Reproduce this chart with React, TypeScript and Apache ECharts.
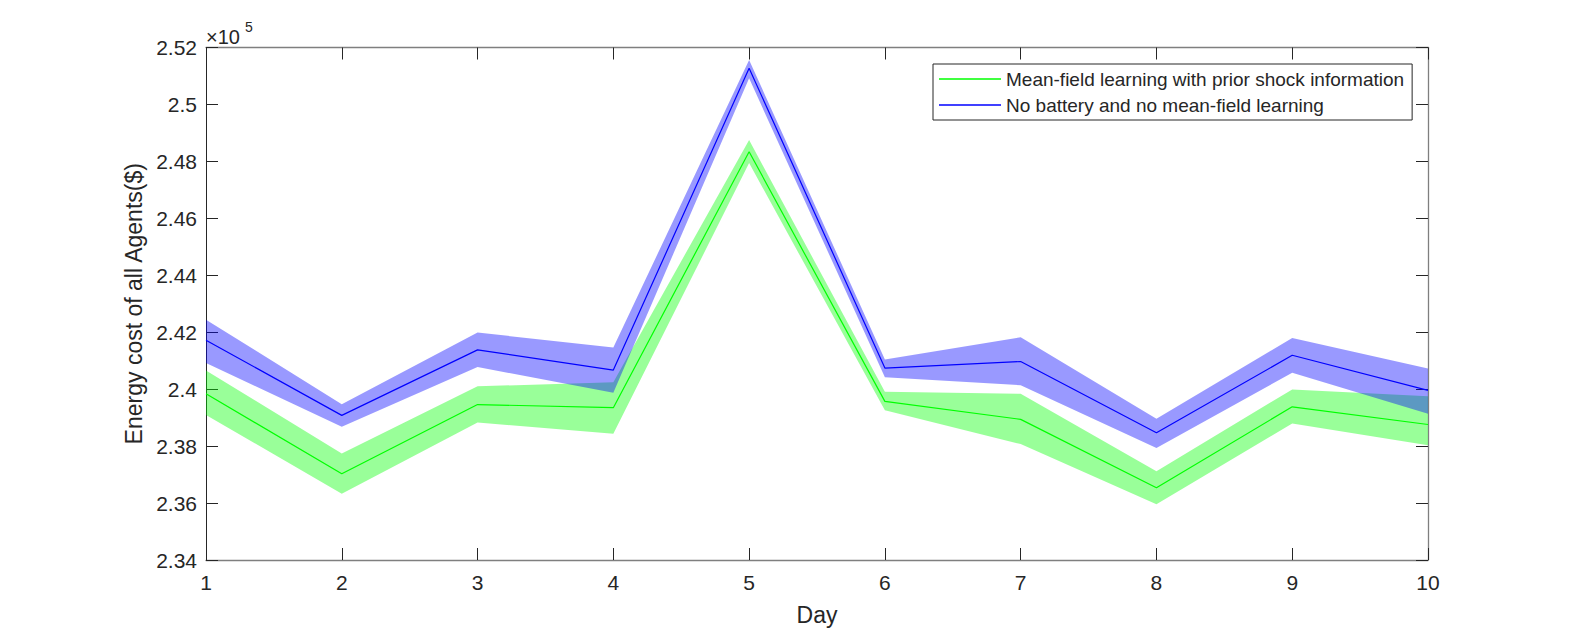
import React, { useEffect, useRef } from "react";
import * as echarts from "echarts";

const days = ["1", "2", "3", "4", "5", "6", "7", "8", "9", "10"];

const greenName = "Mean-field learning with prior shock information";
const blueName = "No battery and no mean-field learning";

const greenMean = [239840, 237030, 239460, 239350, 248340, 239570, 238940, 236540, 239380, 238760];
const greenUpper = [240660, 237740, 240100, 240240, 248750, 239910, 239840, 237120, 239990, 239750];
const greenLower = [239090, 236330, 238830, 238430, 247940, 239260, 238070, 235960, 238790, 238030];

const blueMean = [241720, 239080, 241380, 240670, 251270, 240740, 240970, 238470, 241190, 239960];
const blueUpper = [242440, 239470, 241990, 241460, 251560, 241040, 241820, 238960, 241800, 240730];
const blueLower = [240920, 238680, 240780, 239870, 250920, 240420, 240140, 237930, 240580, 239140];

const yMin = 234000;
const yMax = 252000;
const yStep = 2000;

const FONT = "'Liberation Sans', Arial, Helvetica, sans-serif";
const DARK = "#262626";
const GRAY = "#7f7f7f";

export default function App() {
  const ref = useRef<HTMLDivElement>(null);

  useEffect(() => {
    if (!ref.current) return;
    const chart = echarts.init(ref.current, null, { renderer: "svg" });
    const diff = (u: number[], l: number[]) => u.map((v, i) => v - l[i]);
    const fmt = (v: number) => String(+(v / 1e5).toFixed(2));

    const bandSeries = (name: string, lower: number[], upper: number[], color: string, stack: string) => [
      {
        name: name + "_lo",
        type: "line",
        data: lower,
        stack,
        symbol: "none",
        silent: true,
        lineStyle: { width: 0, opacity: 0 },
        z: 1,
      },
      {
        name: name + "_band",
        type: "line",
        data: diff(upper, lower),
        stack,
        symbol: "none",
        silent: true,
        lineStyle: { width: 0, opacity: 0 },
        areaStyle: { color, opacity: 0.4 },
        z: 1,
      },
    ];

    chart.setOption({
      animation: false,
      backgroundColor: "#ffffff",
      textStyle: { fontFamily: FONT },
      grid: { left: 206, right: 150, top: 47.5, bottom: 70.2, containLabel: false },
      legend: {
        data: [greenName, blueName],
        orient: "vertical",
        left: 933,
        top: 64,
        icon: "rect",
        itemWidth: 62,
        itemHeight: 1.5,
        itemGap: 6,
        padding: [5, 8, 5, 6],
        backgroundColor: "#ffffff",
        borderColor: DARK,
        borderWidth: 1,
        borderRadius: 0,
        textStyle: { fontFamily: FONT, fontSize: 19, color: DARK, lineHeight: 20 },
      },
      xAxis: [
        {
          type: "category",
          data: days,
          boundaryGap: false,
          name: "Day",
          nameLocation: "middle",
          nameGap: 43,
          nameTextStyle: { fontFamily: FONT, fontSize: 23, color: DARK },
          axisLine: { lineStyle: { color: GRAY, width: 1.3 } },
          axisTick: { inside: true, length: 12, alignWithLabel: true, lineStyle: { color: DARK, width: 1 } },
          axisLabel: { fontFamily: FONT, fontSize: 21, color: DARK, margin: 12 },
          splitLine: { show: false },
        },
        {
          type: "category",
          data: days,
          boundaryGap: false,
          position: "top",
          axisLine: { lineStyle: { color: GRAY, width: 1.3 } },
          axisTick: { inside: true, length: 12, alignWithLabel: true, lineStyle: { color: DARK, width: 1 } },
          axisLabel: { show: false },
          splitLine: { show: false },
        },
      ],
      yAxis: [
        {
          type: "value",
          min: yMin,
          max: yMax,
          interval: yStep,
          name: "Energy cost of all Agents($)",
          nameLocation: "middle",
          nameGap: 60,
          nameTextStyle: { fontFamily: FONT, fontSize: 23, color: DARK },
          axisLine: { show: true, lineStyle: { color: DARK, width: 1 } },
          axisTick: { show: true, inside: true, length: 12, lineStyle: { color: DARK, width: 1 } },
          axisLabel: { fontFamily: FONT, fontSize: 21, color: DARK, margin: 9, formatter: fmt },
          splitLine: { show: false },
        },
        {
          type: "value",
          min: yMin,
          max: yMax,
          interval: yStep,
          position: "right",
          axisLine: { show: true, lineStyle: { color: GRAY, width: 1.3 } },
          axisTick: { show: true, inside: true, length: 12, lineStyle: { color: DARK, width: 1 } },
          axisLabel: { show: false },
          splitLine: { show: false },
        },
      ],
      graphic: [
        {
          type: "text",
          left: 206,
          top: 27,
          style: { text: "×10", fontFamily: FONT, fontSize: 20, fill: DARK },
          silent: true,
        },
        {
          type: "text",
          left: 245,
          top: 20,
          style: { text: "5", fontFamily: FONT, fontSize: 14, fill: DARK },
          silent: true,
        },
      ],
      series: [
        ...bandSeries("g", greenLower, greenUpper, "#00ff00", "gband"),
        ...bandSeries("b", blueLower, blueUpper, "#0000ff", "bband"),
        {
          name: greenName,
          type: "line",
          data: greenMean,
          symbol: "none",
          color: "#00ff00",
          lineStyle: { color: "#00ff00", width: 1.2 },
          z: 3,
        },
        {
          name: blueName,
          type: "line",
          data: blueMean,
          symbol: "none",
          color: "#0000ff",
          lineStyle: { color: "#0000ff", width: 1.2 },
          z: 3,
        },
      ],
    });

    return () => chart.dispose();
  }, []);

  return (
    <div
      ref={ref}
      style={{ position: "fixed", left: 0, top: 0, width: 1578, height: 631, background: "#ffffff" }}
    />
  );
}
